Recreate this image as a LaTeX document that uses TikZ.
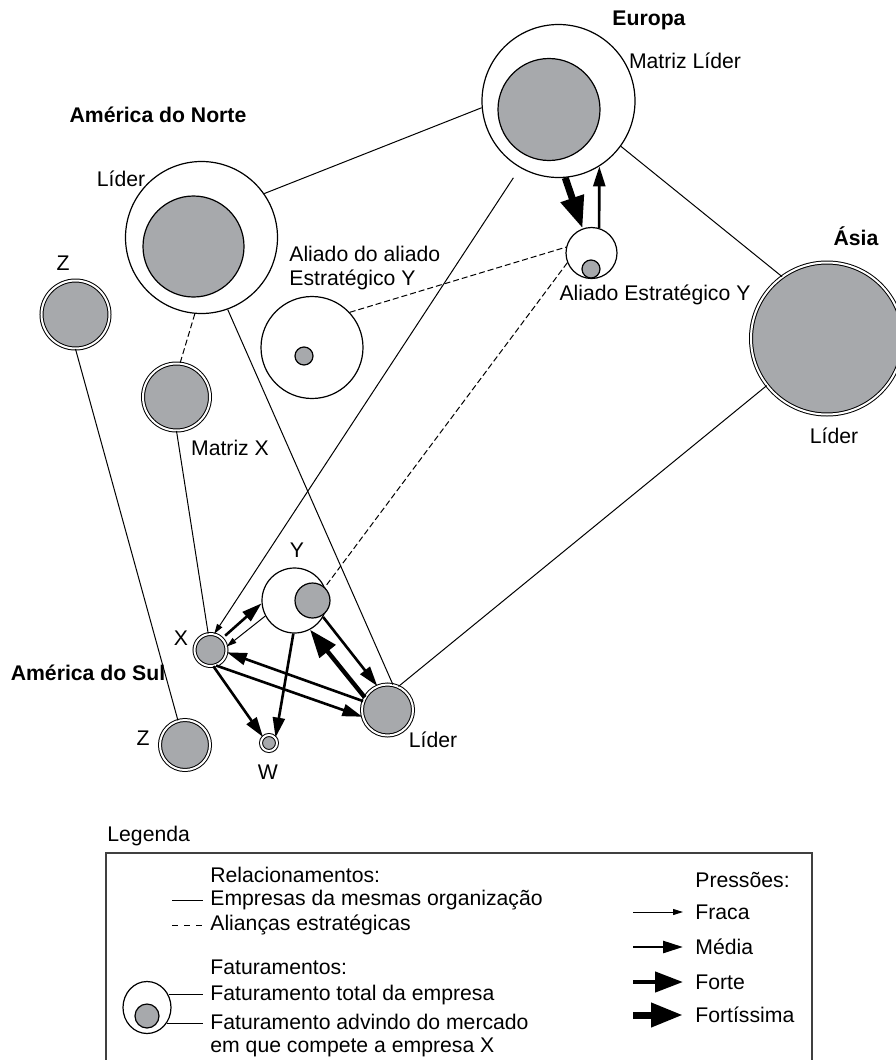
\documentclass[tikz,border=0pt]{standalone}
\usepackage{fontspec}
\setmainfont{Liberation Sans}
\usetikzlibrary{arrows.meta,shapes.geometric}
\definecolor{faturamento}{RGB}{167,169,172}

\begin{document}
\begin{tikzpicture}[x=0.5pt,y=-0.5pt,
  font=\fontsize{10.6}{12.4}\selectfont,
  total node/.style={circle,draw,fill=white,line width=0.6pt,inner sep=0pt},
  mercado node/.style={circle,draw,fill=faturamento,line width=0.6pt,inner sep=0pt},
  empresa node/.style={circle,draw,fill=faturamento,double,double distance=1pt,line width=0.5pt,inner sep=0pt},
  regiao/.style={font=\fontsize{10.6}{12.4}\selectfont\bfseries},
  legtext/.style={anchor=west,inner sep=0pt,align=left},
  org/.style={line width=0.5pt},
  alianca/.style={line width=0.5pt,dash pattern=on 3pt off 1.5pt},
  fraca/.style={line width=0.5pt,-{Triangle[length=5pt,width=3pt]}},
  media/.style={line width=1.3pt,-{Triangle[length=10pt,width=6pt]}},
  forte/.style={line width=2.2pt,-{Triangle[length=14pt,width=10pt]}},
  fortissima/.style={line width=3.5pt,-{Triangle[length=16pt,width=11.5pt]}}]
  \useasboundingbox (0,0) rectangle (895,1060);

  \node[total node,minimum size=76.5pt] (europa) at (558.5,101) {};
  \node[mercado node,minimum size=51pt] (europaIn) at (549,109.5) {};
  \node[regiao] (labelEuropa) at (649,20) {Europa};
  \node (labelMatriz) at (685,61) {Matriz Líder};

  \node[total node,minimum size=76pt] (naLider) at (201.5,237.5) {};
  \node[mercado node,minimum size=50.5pt] (naLiderIn) at (193.5,246.5) {};
  \node[regiao] (labelNorte) at (158,115) {América do Norte};
  \node (labelNaLider) at (121,179) {Líder};

  \node[empresa node,minimum size=34pt] (zNorte) at (75.5,314.5) {};
  \node (labelZNorte) at (63,263) {Z};

  \node[empresa node,minimum size=33.5pt] (matrizX) at (176.5,397) {};
  \node (labelMatrizX) at (230,448) {Matriz X};

  \node[total node,minimum size=51pt] (aliado2) at (312,347.5) {};
  \node[mercado node,minimum size=9pt] (aliado2In) at (304,356) {};
  \node[legtext] (labelAliado2) at (289,268) {Aliado do aliado\\Estratégico Y};

  \node[total node,minimum size=25.5pt] (aliado) at (591.5,253) {};
  \node[mercado node,minimum size=9pt] (aliadoIn) at (591,269) {};
  \node (labelAliado) at (655,295) {Aliado Estratégico Y};

  \node[empresa node,minimum size=76pt] (asia) at (827,338.5) {};
  \node[regiao] (labelAsia) at (856,236) {Ásia};
  \node (labelAsiaLider) at (834,436) {Líder};

  \node[total node,minimum size=32.5pt] (y) at (294.5,600.5) {};
  \node[mercado node,minimum size=17.5pt] (yIn) at (312.5,600.5) {};
  \node (labelY) at (297,550) {Y};

  \node[empresa node,minimum size=16pt] (x) at (210.5,650) {};
  \node (labelX) at (181,638) {X};

  \node[empresa node,minimum size=25.5pt] (lider) at (387.5,710) {};
  \node (labelLider) at (433,740) {Líder};

  \node[empresa node,minimum size=8pt] (w) at (269,743) {};
  \node (labelW) at (268,772) {W};

  \node[empresa node,minimum size=25pt] (zSul) at (185,745) {};
  \node (labelZSul) at (143,738) {Z};
  \node[regiao] (labelSul) at (88,673) {América do Sul};

  \draw[org] (naLider.35) -- (europa.185);
  \draw[org] (europa.324) -- (asia.126);
  \draw[org] (naLider.290) -- (lider.78);
  \draw[org] (asia.218) -- (lider.65);
  \draw[org] (zNorte.270) -- (zSul.106);
  \draw[org] (matrizX.270) -- (x.98);
  \draw[alianca] (naLider.265) -- (matrizX.84);
  \draw[alianca] (aliado2.43) -- (aliado.167);
  \draw[alianca] (aliado.202) -- (yIn.47);

  \draw[fraca,shorten <=6pt] (europa.240) -- (x.77);
  \draw[fortissima] (europa.275) -- (aliado.110);
  \draw[media] (aliado.73) -- (europa.302);
  \draw[media,shorten <=2pt] (x.45) -- (y.185);
  \draw[fraca] (y.208) -- (x.12);
  \draw[media] (y.330) -- (lider.113);
  \draw[forte] (lider.151) -- (y.298);
  \draw[media] (lider.160) -- (x.352);
  \draw[media] (x.290) -- (lider.195);
  \draw[media] (x.280) -- (w.135);
  \draw[media] (y.268) -- (w.40);

  \node[legtext] (legenda) at (107,836) {Legenda};
  \draw[line width=0.8pt,draw=black!75] (106,853) rectangle (812,1066);

  \node[legtext] (relac) at (210,875) {Relacionamentos:};
  \node[legtext] (mesma) at (210,900) {Empresas da mesmas organização};
  \node[legtext] (aliancas) at (210,925) {Alianças estratégicas};
  \coordinate (amostraOrg) at (172,900);
  \coordinate (amostraAlianca) at (172,925);
  \draw[org,shorten >=3.5pt] (amostraOrg) -- (amostraOrg -| mesma.west);
  \draw[line width=0.5pt,dash pattern=on 3pt off 3pt,shorten >=3.5pt] (amostraAlianca) -- (amostraAlianca -| aliancas.west);

  \node[legtext] (fatur) at (210,967) {Faturamentos:};
  \node[legtext] (fatTotal) at (210,995) {Faturamento total da empresa};
  \node[legtext] (fatMercado) at (210,1022) {Faturamento advindo do mercado};
  \node[legtext] (fatMercado2) at (210,1047) {em que compete a empresa X};
  \node[ellipse,draw,line width=0.6pt,minimum width=24pt,minimum height=26pt,inner sep=0pt] (legTotal) at (147,1007.5) {};
  \node[mercado node,minimum size=12pt] (legMercado) at (147,1016) {};
  \draw[org,shorten >=3.5pt] (legTotal.30) -- (legTotal.30 -| fatTotal.west);
  \draw[org,shorten >=3.5pt] (legTotal.322) -- (legTotal.322 -| fatMercado.west);

  \node[legtext] (pressoes) at (695,880) {Pressões:};
  \foreach \estilo/\nome/\yy in {fraca/Fraca/912,media/Média/947,forte/Forte/982,fortissima/Fortíssima/1015}{
    \node[legtext] (l\estilo) at (695,\yy) {\nome};
    \coordinate (p\estilo) at (633,\yy);
    \draw[\estilo,shorten >=6pt] (p\estilo) -- (l\estilo.west);
  }
\end{tikzpicture}
\end{document}
